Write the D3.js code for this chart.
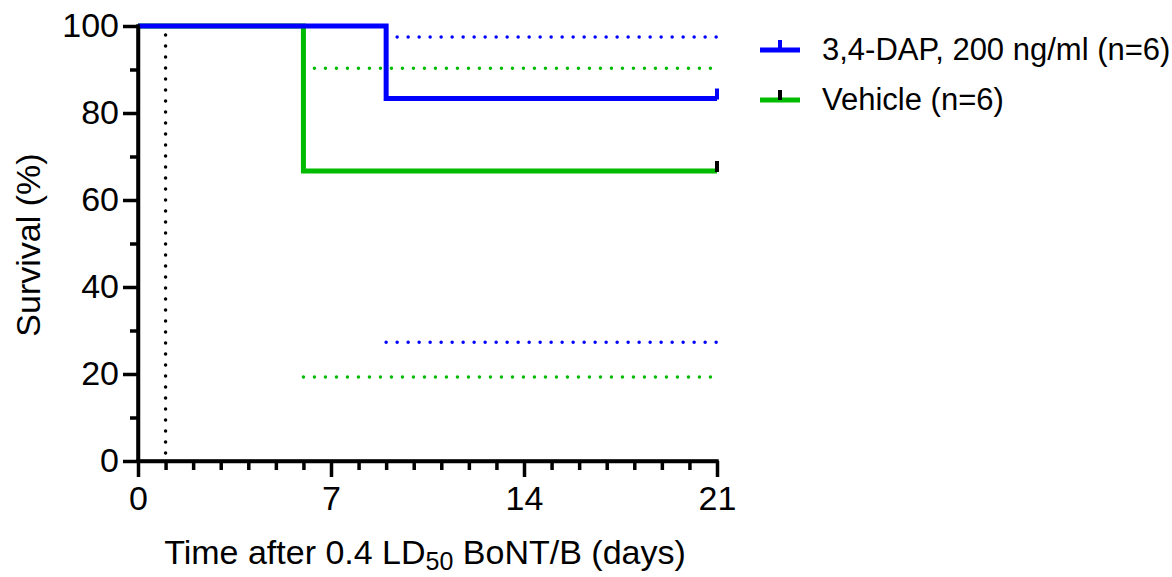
<!DOCTYPE html>
<html>
<head>
<meta charset="utf-8">
<script src="https://cdn.jsdelivr.net/npm/d3@7"></script>
<style>
  body { margin: 0; background: #fff; }
  text { font-family: "Liberation Sans", Arial, sans-serif; fill: #000; }
</style>
</head>
<body>
<svg id="chart" width="1172" height="577"></svg>
<script>
// data ----------------------------------------
var seriesNames = ["3,4-DAP, 200 ng/ml (n=6)", "Vehicle (n=6)"];

// Kaplan-Meier steps (day, % survival)
var dapDays = [0, 9, 21];
var dapSurv = [100, 83.33, 83.33];
var vehDays = [0, 6, 21];
var vehSurv = [100, 66.67, 66.67];

// 95% CI bands (drawn dotted), from first event to end
var dapCiDays = [9, 21];
var dapCiUpper = [97.5, 97.5];
var dapCiLower = [27.3, 27.3];
var vehCiDays = [6, 21];
var vehCiUpper = [90.3, 90.3];
var vehCiLower = [19.3, 19.3];

// censored at end of study
var censorDay = 21;

// treatment day marker
var markerDay = 1;

var xMajorTicks = [0, 7, 14, 21];
var yMajorTicks = [0, 20, 40, 60, 80, 100];

var colors = ["#0000ff", "#00bb00"];
var censorColors = ["#0000ff", "#000000"];

// layout ----------------------------------------
var svg = d3.select("#chart");
var x = d3.scaleLinear().domain([0, 21]).range([138, 717]);
var y = d3.scaleLinear().domain([0, 100]).range([461, 26]);

var xMinor = d3.range(0, 22).filter(function(d) { return xMajorTicks.indexOf(d) < 0; });
var yMinor = d3.range(10, 100, 20);

// dotted marker at day 1
svg.append("line")
  .attr("x1", x(markerDay)).attr("x2", x(markerDay))
  .attr("y1", y(0) - 8).attr("y2", y(100) + 4)
  .attr("stroke", "#000")
  .attr("stroke-width", 3.5)
  .attr("stroke-linecap", "round")
  .attr("stroke-dasharray", "0 11");

// CI lines ----------------------------------------
var ciSets = [
  { days: dapCiDays, vals: dapCiUpper, c: 0 },
  { days: dapCiDays, vals: dapCiLower, c: 0 },
  { days: vehCiDays, vals: vehCiUpper, c: 1 },
  { days: vehCiDays, vals: vehCiLower, c: 1 }
];
var ciLine = d3.line()
  .x(function(d) { return x(d[0]); })
  .y(function(d) { return y(d[1]); });

ciSets.forEach(function(s) {
  svg.append("path")
    .attr("d", ciLine(d3.zip(s.days, s.vals)))
    .attr("fill", "none")
    .attr("stroke", colors[s.c])
    .attr("stroke-width", 3.5)
    .attr("stroke-linecap", "round")
    .attr("stroke-dasharray", "0 11");
});

// survival steps ----------------------------------------
var step = d3.line()
  .x(function(d) { return x(d[0]); })
  .y(function(d) { return y(d[1]); })
  .curve(d3.curveStepAfter);

var survSets = [d3.zip(vehDays, vehSurv), d3.zip(dapDays, dapSurv)];
var survColors = [colors[1], colors[0]];
survSets.forEach(function(pts, i) {
  svg.append("path")
    .attr("d", step(pts))
    .attr("fill", "none")
    .attr("stroke", survColors[i])
    .attr("stroke-width", 5);
});

// censor ticks
[dapSurv[dapSurv.length - 1], vehSurv[vehSurv.length - 1]].forEach(function(v, i) {
  svg.append("line")
    .attr("x1", x(censorDay)).attr("x2", x(censorDay))
    .attr("y1", y(v) + 1).attr("y2", y(v) - 10)
    .attr("stroke", censorColors[i])
    .attr("stroke-width", 4);
});

// axes ----------------------------------------
var xAxis = svg.append("g")
  .attr("transform", "translate(0," + y(0) + ")")
  .call(d3.axisBottom(x).tickValues(xMajorTicks).tickSize(16).tickSizeOuter(0).tickPadding(9));
var xAxisMinor = svg.append("g")
  .attr("transform", "translate(0," + y(0) + ")")
  .call(d3.axisBottom(x).tickValues(xMinor).tickSize(9).tickSizeOuter(0).tickFormat(""));

var yAxis = svg.append("g")
  .attr("transform", "translate(" + x(0) + ",0)")
  .call(d3.axisLeft(y).tickValues(yMajorTicks).tickSize(15).tickSizeOuter(0).tickPadding(4));
var yAxisMinor = svg.append("g")
  .attr("transform", "translate(" + x(0) + ",0)")
  .call(d3.axisLeft(y).tickValues(yMinor).tickSize(8).tickSizeOuter(0).tickFormat(""));

[xAxis, xAxisMinor, yAxis, yAxisMinor].forEach(function(g) {
  g.selectAll("path, line").attr("stroke", "#000").attr("stroke-width", 3.5);
  g.selectAll("text")
    .style("font-family", "'Liberation Sans', Arial, sans-serif")
    .style("font-size", "34px")
    .attr("fill", "#000");
});
xAxis.select(".domain").attr("d", "M" + (x(0) - 1.75) + ",0H" + (x(21) + 1.75));
yAxis.select(".domain").attr("d", "M0," + (y(0) + 1.75) + "V" + (y(100) - 1.75));

// axis titles
var xTitle = svg.append("text")
  .attr("x", 425).attr("y", 564)
  .attr("text-anchor", "middle")
  .style("font-size", "34px");
xTitle.append("tspan").text("Time after 0.4 LD");
xTitle.append("tspan").attr("dy", 6).style("font-size", "25px").text("50");
xTitle.append("tspan").attr("dy", -6).text(" BoNT/B (days)");

svg.append("text")
  .attr("transform", "translate(40,245) rotate(-90)")
  .attr("text-anchor", "middle")
  .style("font-size", "34px")
  .text("Survival (%)");

// legend ----------------------------------------
var legend = svg.append("g");
seriesNames.forEach(function(name, i) {
  var ly = 50 + i * 50;
  legend.append("line")
    .attr("x1", 760).attr("x2", 800)
    .attr("y1", ly).attr("y2", ly)
    .attr("stroke", colors[i]).attr("stroke-width", 5);
  legend.append("line")
    .attr("x1", 780).attr("x2", 780)
    .attr("y1", ly).attr("y2", ly - 10)
    .attr("stroke", censorColors[i]).attr("stroke-width", 4);
  legend.append("text")
    .attr("x", 822).attr("y", ly + 10)
    .style("font-size", "31px")
    .text(name);
});
</script>
</body>
</html>
